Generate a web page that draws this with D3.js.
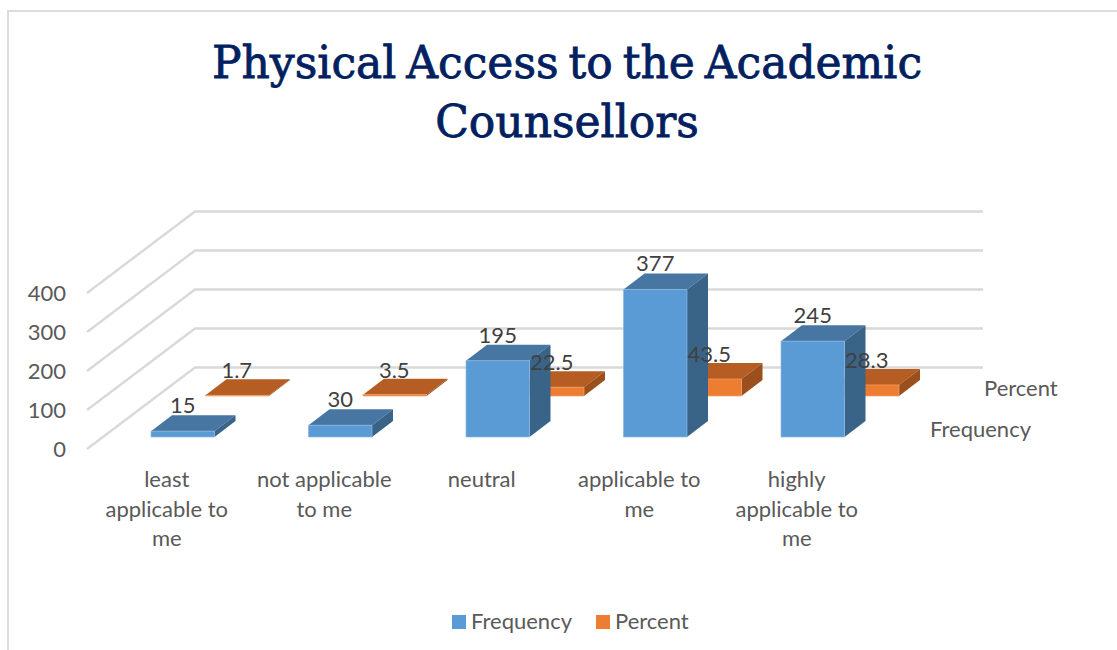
<!DOCTYPE html>
<html><head><meta charset="utf-8">
<script src="https://cdn.jsdelivr.net/npm/d3@7/dist/d3.min.js"></script>
<style>html,body{margin:0;padding:0;background:#fff}svg{display:block}</style>
</head><body><svg id="c" width="1117" height="650"></svg>
<script>
const titleLines = ["Physical Access to the Academic", "Counsellors"];
const categories = ["least applicable to me", "not applicable to me", "neutral", "applicable to me", "highly applicable to me"];
const categoryLines = [["least","applicable to","me"],["not applicable","to me"],["neutral"],["applicable to","me"],["highly","applicable to","me"]];
const frequency = [15, 30, 195, 377, 245];
const percent = [1.7, 3.5, 22.5, 43.5, 28.3];
const yTicks = [0, 100, 200, 300, 400];
const seriesNames = ["Frequency", "Percent"];

const svg = d3.select("#c");
const FONT = "Lato, 'Open Sans', sans-serif";
const FS = 22;

// frame
svg.append("path").attr("d","M8,650V11H1117").attr("fill","none").attr("stroke","#dcdcdc").attr("stroke-width",2);

// title
svg.append("g").selectAll("text").data(titleLines).join("text")
  .attr("x",567).attr("y",(d,i)=>78+i*59).attr("text-anchor","middle")
  .attr("font-family","'DejaVu Serif', serif").attr("font-size",44).attr("fill","#002060")
  .attr("stroke","#002060").attr("stroke-width",0.8).attr("word-spacing",-4)
  .text(d=>d);

// scales
const barH = d3.scaleLinear().domain([0,400]).range([0,156.5]);
const x = d3.scaleBand().domain(categories).range([88,875.5]).paddingInner(0).paddingOuter(0);
const labelX = c => x(c)+x.bandwidth()/2;
const barW = 63.5;
const depth = {dx:21, dy:-16};
const blueFloor = {x:16, y:437};   // front edge of frequency row, offset from band centre
const orangeFloor = {x:70.5, y:396};  // front edge of percent row

// walls: gridlines
const wallY = d3.scaleLinear().domain([0,400]).range([367.5,211.5]);
const grid = svg.append("g").attr("fill","none").attr("stroke","#d9d9d9").attr("stroke-width",2.4);
yTicks.forEach(t=>{
  const yb = wallY(t);
  grid.append("path").attr("d",d3.line()([[87,yb+81.5],[195,yb],[983,yb]]));
});

// y axis
const yAxisScale = d3.scaleLinear().domain([0,400]).range([449,293]);
const ya = svg.append("g").attr("transform","translate(66,0)")
  .call(d3.axisLeft(yAxisScale).tickValues(yTicks).tickSize(0).tickPadding(0));
ya.select(".domain").remove();
ya.selectAll("text").attr("font-family",FONT).attr("font-size",FS).attr("fill","#595959").attr("dy","0.35em");

function drawBar(g,c,v,floor,col){
  const cx = labelX(c)+floor.x, l = cx-barW/2, r = l+barW, b = floor.y, t = b-barH(v);
  const dx=depth.dx, dy=depth.dy;
  const poly = pts => d3.line()(pts)+"Z";
  g.append("path").attr("d",poly([[l,t],[r,t],[r+dx,t+dy],[l+dx,t+dy]])).attr("fill",col.top);
  g.append("path").attr("d",poly([[r,t],[r+dx,t+dy],[r+dx,b+dy],[r,b]])).attr("fill",col.side);
  g.append("rect").attr("x",l).attr("y",t).attr("width",barW).attr("height",b-t).attr("fill",col.front);
  g.append("path").attr("d",poly([[l,t],[r,t],[r,b],[l,b]])).attr("fill","none").attr("stroke",col.edge).attr("stroke-width",0.7);
}
const blue = {front:"#5b9bd5",top:"#4776a3",side:"#3a6388",edge:"#8db8e0"};
const orange = {front:"#ed7d31",top:"#b55d22",side:"#9a4f1c",edge:"#f0a070"};

const bars = svg.append("g");
categories.forEach((c,i)=>drawBar(bars,c,percent[i],orangeFloor,orange));
categories.forEach((c,i)=>drawBar(bars,c,frequency[i],blueFloor,blue));

// data labels
const dl = svg.append("g").attr("font-family",FONT).attr("font-size",FS).attr("fill","#404040").attr("text-anchor","middle");
categories.forEach((c,i)=>{
  dl.append("text").attr("x",labelX(c)+blueFloor.x).attr("y",blueFloor.y-barH(frequency[i])-18).text(frequency[i]);
  dl.append("text").attr("x",labelX(c)+orangeFloor.x-.5).attr("y",orangeFloor.y-barH(percent[i])-17).text(percent[i]);
});

// category labels
const cl = svg.append("g").attr("font-family",FONT).attr("font-size",FS).attr("fill","#595959").attr("text-anchor","middle");
categories.forEach((c,i)=>{
  categoryLines[i].forEach((ln,j)=>{
    cl.append("text").attr("x",labelX(c)).attr("y",487+j*29.5).text(ln);
  });
});

// depth axis labels
const da = svg.append("g").attr("font-family",FONT).attr("font-size",FS).attr("fill","#595959");
da.append("text").attr("x",930).attr("y",437).text(seriesNames[0]);
da.append("text").attr("x",984).attr("y",396).text(seriesNames[1]);

// legend
const lg = svg.append("g").attr("font-family",FONT).attr("font-size",FS).attr("fill","#595959");
[[452,blue.front],[596,orange.front]].forEach(([lx,col],i)=>{
  lg.append("rect").attr("x",lx).attr("y",615).attr("width",14).attr("height",14).attr("fill",col);
  lg.append("text").attr("x",lx+19).attr("y",629).text(seriesNames[i]);
});
</script></body></html>
